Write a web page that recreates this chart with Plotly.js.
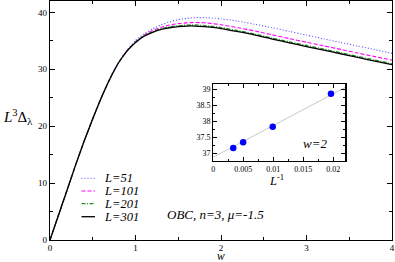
<!DOCTYPE html>
<html>
<head>
<meta charset="utf-8">
<script src="https://cdn.plot.ly/plotly-3.0.1.min.js"></script>
<style>html,body{margin:0;padding:0;background:#fff;}#chart{width:395px;height:262px;}</style>
</head>
<body>
<div id="chart"></div>
<script>
// ---- data ----
const w = [0,0.1,0.2,0.3,0.4,0.5,0.6,0.7,0.8,0.9,1.0,1.1,1.2,1.3,1.4,1.5,1.6,1.7,1.8,1.9,2.0,
           2.2,2.4,2.6,2.8,3.0,3.2,3.4,3.6,3.8,4.0];
const L_values = [51, 101, 201, 301];
const gap_L51  = [0,4.4,8.8,13.2,17.4,21.3,25.0,28.3,31.15,33.35,35.05,36.2,37.1,37.8,38.35,38.72,38.95,39.07,39.07,39.0,38.87,
                  38.45,37.9,37.3,36.65,36.0,35.35,34.7,34.08,33.45,32.8];
const gap_L101 = [0,4.4,8.8,13.2,17.4,21.3,25.0,28.3,31.1,33.25,34.85,36.0,36.8,37.38,37.78,38.02,38.16,38.22,38.18,38.03,37.83,
                  37.3,36.72,36.05,35.4,34.75,34.12,33.5,32.85,32.22,31.6];
const gap_L201 = [0,4.4,8.8,13.2,17.4,21.3,25.0,28.3,31.1,33.2,34.75,35.88,36.6,37.13,37.45,37.66,37.77,37.78,37.68,37.53,37.34,
                  36.78,36.18,35.48,34.83,34.18,33.55,32.92,32.27,31.63,31.0];
const gap_L301 = [0,4.4,8.8,13.2,17.4,21.3,25.0,28.3,31.1,33.2,34.7,35.8,36.5,37.0,37.3,37.5,37.6,37.6,37.5,37.35,37.16,
                  36.6,36.0,35.3,34.65,34.0,33.37,32.73,32.08,31.44,30.8];
// inset: w = 2, value vs 1/L
const invL = [1/301, 1/201, 1/101, 1/51];
const gap_w2 = [37.16, 37.34, 37.83, 38.87];
const fitX = [0, 0.022];
const fitY = [36.87, 39.07];
const annoText = "OBC, n=3, \u03bc=-1.5";

// ---- styles ----
const serif = "Liberation Serif";
const series = [
  {y: gap_L51,  color: "#4a4aff", dash: "1px,2px",             width: 1.1},
  {y: gap_L101, color: "#ff00ff", dash: "4px,2px",             width: 1.1},
  {y: gap_L201, color: "#2a8f2a", dash: "4px,1.5px,1px,1.5px", width: 1.3},
  {y: gap_L301, color: "#000000", dash: "solid",               width: 1.3}
];

const traces = series.map((s, i) => ({
  x: w, y: s.y, type: "scatter", mode: "lines", name: "L=" + L_values[i],
  line: {color: s.color, dash: s.dash, width: s.width, shape: "spline", smoothing: 0.6},
  xaxis: "x", yaxis: "y", showlegend: false, hoverinfo: "skip"
}));
traces.push({x: fitX, y: fitY, type: "scatter", mode: "lines", xaxis: "x2", yaxis: "y2",
  line: {color: "#c8c8c8", width: 1}, showlegend: false, hoverinfo: "skip"});
traces.push({x: invL, y: gap_w2, type: "scatter", mode: "markers", xaxis: "x2", yaxis: "y2",
  marker: {color: "#0000ff", size: 6.5}, showlegend: false, hoverinfo: "skip"});

// legend drawn with shapes + annotations (compact, as in the reference)
const pxX = px => (px - 50) / 342;
const pxY = py => (240 - py) / 239;
const legendRows = [178.3, 191, 203.7, 216.7];
const shapes = series.map((s, i) => ({
  type: "line", xref: "paper", yref: "paper",
  x0: pxX(81.5), x1: pxX(95), y0: pxY(legendRows[i]), y1: pxY(legendRows[i]),
  line: {color: s.color, dash: s.dash, width: s.width}
}));
const annotations = L_values.map((L, i) => ({
  xref: "paper", yref: "paper", x: pxX(102), y: pxY(legendRows[i]),
  xanchor: "left", yanchor: "middle", showarrow: false,
  text: "<i>L=" + L + "</i>", font: {family: serif, size: 12.5, color: "#000"}
}));
annotations.push({xref: "paper", yref: "paper", x: pxX(165), y: pxY(214), xanchor: "left", yanchor: "middle",
  showarrow: false, text: "<i>" + annoText + "</i>", font: {family: serif, size: 13, color: "#000"}});
annotations.push({xref: "paper", yref: "paper", x: pxX(301), y: pxY(143), xanchor: "left", yanchor: "middle",
  showarrow: false, text: "<i>w=2</i>", font: {family: serif, size: 13, color: "#000"}});
annotations.push({xref: "paper", yref: "paper", x: pxX(221), y: pxY(256), xanchor: "center", yanchor: "middle",
  showarrow: false, text: "<i>w</i>", font: {family: serif, size: 11.5, color: "#000"}});
annotations.push({xref: "paper", yref: "paper", x: pxX(276), y: pxY(180), xanchor: "center", yanchor: "middle",
  showarrow: false, text: "<i>L</i><sup>-1</sup>", font: {family: serif, size: 12.5, color: "#000"}});
annotations.push({xref: "paper", yref: "paper", x: pxX(1), y: pxY(117), xanchor: "left", yanchor: "middle",
  showarrow: false, text: "<i>L</i><sup>3</sup>\u0394<sub>\u03bb</sub>", font: {family: serif, size: 15, color: "#000"}});

const axBase = {
  showline: true, linecolor: "#000", linewidth: 1.3, mirror: "ticks",
  ticks: "inside", ticklen: 5, tickwidth: 1, tickcolor: "#000",
  showgrid: false, zeroline: false, tickfont: {family: serif, size: 9, color: "#000"}
};

const layout = {
  width: 395, height: 262,
  margin: {l: 50, r: 3, t: 1, b: 22},
  paper_bgcolor: "#fff", plot_bgcolor: "#fff",
  showlegend: false,
  xaxis: Object.assign({}, axBase, {range: [0, 4], dtick: 1, tick0: 0, ticklabelstandoff: -1,
    minor: {dtick: 0.5, ticks: "inside", ticklen: 3, tickcolor: "#000"}}),
  yaxis: Object.assign({}, axBase, {range: [0, 42], dtick: 10, tick0: 0,
    minor: {dtick: 5, ticks: "inside", ticklen: 3, tickcolor: "#000"}}),
  xaxis2: Object.assign({}, axBase, {domain: [0.4775, 0.8635], anchor: "y2", range: [0, 0.022],
    dtick: 0.005, tick0: 0, ticklen: 4, tickfont: {family: serif, size: 8, color: "#000"},
    minor: {dtick: 0.0025, ticks: "inside", ticklen: 2, tickcolor: "#000"}}),
  yaxis2: Object.assign({}, axBase, {domain: [0.332, 0.653], anchor: "x2", range: [36.76, 39.18],
    dtick: 0.5, tick0: 37, ticklen: 4, tickfont: {family: serif, size: 8, color: "#000"},
    minor: {dtick: 0.25, ticks: "inside", ticklen: 2, tickcolor: "#000"}}),
  shapes: shapes,
  annotations: annotations
};

Plotly.newPlot("chart", traces, layout, {staticPlot: true, displayModeBar: false});
</script>
</body>
</html>
